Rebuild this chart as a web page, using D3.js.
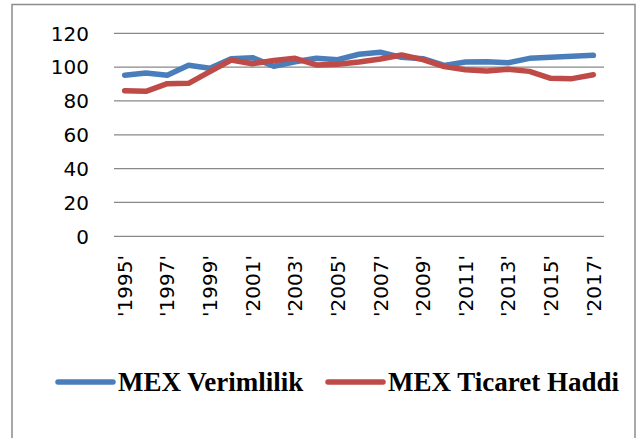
<!DOCTYPE html>
<html>
<head>
<meta charset="utf-8">
<script src="https://cdn.jsdelivr.net/npm/d3@7/dist/d3.min.js"></script>
</head>
<body style="margin:0">
<script>
var years = d3.range(1995, 2018).map(function(y) { return "'" + y + "'"; });
var verimlilik = [95.2, 96.5, 95.2, 101.1, 99.3, 105, 105.6, 100.5, 103.2, 105.3, 104.4, 107.6, 108.8, 105.8, 105, 101, 103, 103.2, 102.6, 105.2, 105.8, 106.4, 107];
var ticaret = [86.1, 85.7, 90.2, 90.4, 97.3, 104.2, 102, 103.9, 105.2, 101.3, 101.7, 103, 104.8, 107.2, 104.4, 100.3, 98.4, 97.7, 98.7, 97.5, 93.4, 93.2, 95.5];
var yTicks = [0, 20, 40, 60, 80, 100, 120];
var seriesNames = ["MEX Verimlilik", "MEX Ticaret Haddi"];
var colors = ["#4a7ebb", "#be4b48"];

var width = 637, height = 438;

var svg = d3.select("body").append("svg")
  .attr("width", width)
  .attr("height", height)
  .style("display", "block");

// chart border (runs off the bottom)
svg.append("rect")
  .attr("x", 12).attr("y", 4.5)
  .attr("width", 623).attr("height", 460)
  .attr("fill", "none")
  .attr("stroke", "#8c8c8c")
  .attr("stroke-width", 1.5);

var x = d3.scaleBand().domain(years).range([114, 604]);
var y = d3.scaleLinear().domain([0, 120]).range([236.3, 33.3]);

// gridlines
svg.append("g")
  .selectAll("line")
  .data(yTicks)
  .enter().append("line")
  .attr("x1", 114).attr("x2", 604)
  .attr("y1", function(d) { return y(d); })
  .attr("y2", function(d) { return y(d); })
  .attr("stroke", "#888")
  .attr("stroke-width", 1.3);

// legend first
var legendX = [58, 328];
seriesNames.forEach(function(name, k) {
  svg.append("line")
    .attr("x1", legendX[k]).attr("x2", legendX[k] + 55)
    .attr("y1", 382).attr("y2", 382)
    .attr("stroke", colors[k])
    .attr("stroke-width", 5.5)
    .attr("stroke-linecap", "round");
  svg.append("text")
    .attr("x", legendX[k] + 60)
    .attr("y", 391)
    .attr("font-family", "Liberation Serif")
    .style("font-family", "'Liberation Serif'")
    .style("font-weight", "bold")
    .style("font-size", "27px")
    .text(name);
});

// y labels
svg.append("g")
  .selectAll("text")
  .data(yTicks)
  .enter().append("text")
  .attr("x", 89)
  .attr("y", function(d) { return y(d); })
  .attr("dy", "0.36em")
  .attr("text-anchor", "end")
  .style("font-family", "'DejaVu Sans'")
  .style("font-size", "20px")
  .text(function(d) { return d; });

// x labels every other year
svg.append("g")
  .selectAll("text")
  .data(years.filter(function(d, i) { return i % 2 === 0; }))
  .enter().append("text")
  .attr("transform", function(d) {
    return "translate(" + (x(d) + x.bandwidth() / 2) + ",255) rotate(-90)";
  })
  .attr("dy", "0.36em")
  .attr("text-anchor", "end")
  .style("font-family", "'DejaVu Sans'")
  .style("font-size", "20px")
  .text(function(d) { return d; });

var line = d3.line()
  .x(function(d, i) { return x(years[i]) + x.bandwidth() / 2; })
  .y(function(d) { return y(d); });

[verimlilik, ticaret].forEach(function(s, k) {
  svg.append("path")
    .datum(s)
    .attr("d", line)
    .attr("fill", "none")
    .attr("stroke", colors[k])
    .attr("stroke-width", 5.5)
    .attr("stroke-linejoin", "round")
    .attr("stroke-linecap", "round");
});
</script>
</body>
</html>
